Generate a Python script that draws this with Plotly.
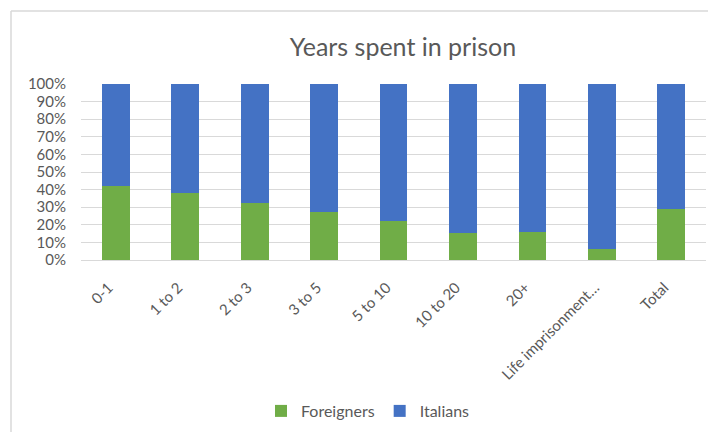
import plotly.graph_objects as go

categories = ["0-1", "1 to 2", "2 to 3", "3 to 5", "5 to 10", "10 to 20", "20+",
              "Life imprisonment…", "Total"]
foreigners = [42.0, 38.1, 32.6, 27.4, 22.3, 15.3, 15.9, 6.1, 29.0]
italians = [100 - v for v in foreigners]
tick_vals = [0, 10, 20, 30, 40, 50, 60, 70, 80, 90, 100]
tick_text = [f"{v}%" for v in tick_vals]

FONT = "Lato, Open Sans, sans-serif"
GRAY = "#595959"

fig = go.Figure()
fig.add_trace(go.Bar(name="Foreigners", x=categories, y=foreigners,
                     marker=dict(color="#70ad47", line=dict(width=0))))
fig.add_trace(go.Bar(name="Italians", x=categories, y=italians,
                     marker=dict(color="#4472c4", line=dict(width=0))))

OFF = 8  # page body margin
W, H = 716 - OFF, 432 - OFF
# plot area in screen pixels
L, R, T, B = 81, 706, 84, 260
pw, ph = R - L, B - T

def px(x):
    return (x - L) / pw

def py(y):
    return (B - y) / ph

fig.update_layout(
    width=W, height=H,
    barmode="stack",
    bargap=0.6,
    plot_bgcolor="white",
    paper_bgcolor="white",
    margin=dict(l=L - OFF, r=W - (R - OFF), t=T - OFF, b=H - (B - OFF),
                autoexpand=False),
    font=dict(family=FONT, color=GRAY, size=15),
    title=dict(text="Years spent in prison", x=px(403), xref="paper",
               y=1 - (47 - OFF) / H, yref="container", xanchor="center",
               yanchor="middle",
               font=dict(size=25, color=GRAY, family=FONT)),
    xaxis=dict(tickangle=-45, showgrid=False, showline=False, ticks="",
               automargin=False, ticklabelstandoff=15, ticklabelshift=-7,
               tickfont=dict(size=15, color=GRAY, family=FONT)),
    yaxis=dict(range=[0, 100], tickvals=tick_vals, ticktext=tick_text,
               showgrid=True, gridcolor="#d9d9d9", gridwidth=1,
               zeroline=True, zerolinecolor="#d9d9d9", zerolinewidth=1,
               ticks="", ticklabelstandoff=14, automargin=False,
               tickfont=dict(size=15, color=GRAY, family=FONT)),
    legend=dict(orientation="h", x=px(261), xanchor="left", y=py(411),
                yanchor="middle", font=dict(size=16, color=GRAY, family=FONT),
                itemwidth=30, traceorder="normal"),
    shapes=[
        dict(type="line", xref="paper", yref="paper",
             x0=px(11), x1=px(11), y0=py(440), y1=py(11),
             line=dict(color="#d9d9d9", width=1.5)),
        dict(type="line", xref="paper", yref="paper",
             x0=px(11), x1=px(720), y0=py(11), y1=py(11),
             line=dict(color="#d9d9d9", width=1.5)),
    ],
)

fig.write_html("out.html")
